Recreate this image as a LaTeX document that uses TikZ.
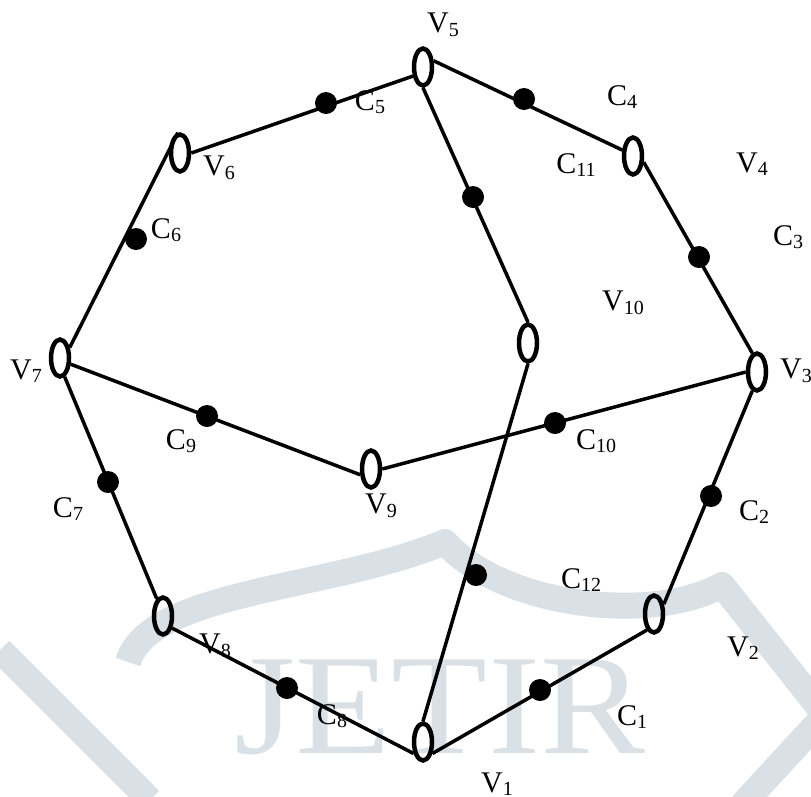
\documentclass[tikz,border=0pt]{standalone}
\usepackage{fontspec}
\setmainfont{Liberation Serif}
\usetikzlibrary{shapes.geometric}
\definecolor{wmgray}{RGB}{218,225,230}
\newcommand{\Lb}[2]{#1\raisebox{-3.5pt}{\fontsize{20}{20}\selectfont #2}}
\begin{document}
\begin{tikzpicture}[x=1pt,y=-1pt,
  vert/.style={draw, line width=4.5pt, ellipse, minimum width=18pt, minimum height=37pt, inner sep=0pt},
  cdot/.style={circle, fill=black, minimum size=22pt, inner sep=0pt},
  gedge/.style={line width=3.5pt},
  lab/.style={font=\fontsize{30}{32}\selectfont, inner sep=0pt},
  wmband/.style={wmgray, line width=26pt, line join=round}]
\useasboundingbox (0,0) rectangle (811,796);
% watermark
\draw[wmband] (128,662) .. controls (150,590) and (330,590) .. (445,542)
  .. controls (500,605) and (650,625) .. (722,585) -- (825,715) -- (742,805);
\draw[wmband] (0,650) -- (150,800);
\node[wmgray, inner sep=0pt, anchor=base] (wm) at (440,753)
  {\scalebox{1.1}[1]{\fontsize{143}{143}\selectfont JETIR}};
% vertices
\node[vert] (V1) at (423,742) {};
\node[vert] (V2) at (654,614) {};
\node[vert] (V3) at (757,372) {};
\node[vert] (V4) at (633,156) {};
\node[vert] (V5) at (423,67) {};
\node[vert] (V6) at (180,153) {};
\node[vert] (V7) at (60,358) {};
\node[vert] (V8) at (163,616) {};
\node[vert] (V9) at (371,469) {};
\node[vert] (V10) at (528,343) {};
% edges
\draw[gedge] (V5.222) -- (V6.east);
\draw[gedge] (V5.30) -- (V4.151);
\draw[gedge] (V4.-30) -- (V3.104);
\draw[gedge] (V3.256) -- (V2.45);
\draw[gedge] (V2.246) -- (V1.-51);
\draw[gedge] (V1.231) -- (V8.-53);
\draw[gedge] (V8.110) -- (V7.-76);
\draw[gedge] (V7.47) -- (V6.96);
\draw[gedge] (V7.-30) -- (V9.208);
\draw[gedge] (V9.east) -- (V3.west);
\draw[gedge] (V5.south) -- (V10.north);
\draw[gedge] (V10.south) -- (V1.north);
% dots
\node[cdot] (C1) at (540,690) {};
\node[cdot] (C2) at (711,496) {};
\node[cdot] (C3) at (699,257) {};
\node[cdot] (C4) at (524,99) {};
\node[cdot] (C5) at (326,103) {};
\node[cdot] (C6) at (136,239) {};
\node[cdot] (C7) at (108,482) {};
\node[cdot] (C8) at (287,688) {};
\node[cdot] (C9) at (207,416) {};
\node[cdot] (C10) at (555,423) {};
\node[cdot] (C11) at (473,197) {};
\node[cdot] (C12) at (476,575) {};
% labels
\node[lab] (L1) at (497,784) {\Lb{V}{1}};
\node[lab] (L2) at (743,648) {\Lb{V}{2}};
\node[lab] (L3) at (796,371) {\Lb{V}{3}};
\node[lab] (L4) at (752,164) {\Lb{V}{4}};
\node[lab] (L5) at (443,25) {\Lb{V}{5}};
\node[lab] (L6) at (219,168) {\Lb{V}{6}};
\node[lab] (L7) at (26,371) {\Lb{V}{7}};
\node[lab] (L8) at (215,646) {\Lb{V}{8}};
\node[lab] (L9) at (381,506) {\Lb{V}{9}};
\node[lab] (L10) at (623,303) {\Lb{V}{10}};
\node[lab] (K1) at (632,717) {\Lb{C}{1}};
\node[lab] (K2) at (754,512) {\Lb{C}{2}};
\node[lab] (K3) at (788,237) {\Lb{C}{3}};
\node[lab] (K4) at (622,97) {\Lb{C}{4}};
\node[lab] (K5) at (370,102) {\Lb{C}{5}};
\node[lab] (K6) at (166,230) {\Lb{C}{6}};
\node[lab] (K7) at (68,509) {\Lb{C}{7}};
\node[lab] (K8) at (332,716) {\Lb{C}{8}};
\node[lab] (K9) at (181,441) {\Lb{C}{9}};
\node[lab] (K10) at (596,441) {\Lb{C}{10}};
\node[lab] (K11) at (576,165) {\Lb{C}{11}};
\node[lab] (K12) at (581,580) {\Lb{C}{12}};
\end{tikzpicture}
\end{document}
